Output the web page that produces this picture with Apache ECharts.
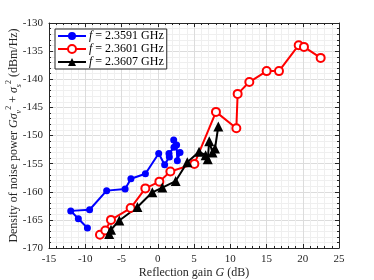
<!DOCTYPE html>
<html><head><meta charset="utf-8">
<script src="https://cdn.jsdelivr.net/npm/echarts@6/dist/echarts.min.js"></script>
<style>html,body{margin:0;padding:0;background:#fff}#c{width:374px;height:280px}</style>
</head><body><div id="c"></div>
<script>
var xTicks = [-15,-10,-5,0,5,10,15,20,25];
var yTicks = [-170,-165,-160,-155,-150,-145,-140,-135,-130];
var names = ['f = 2.3591 GHz','f = 2.3601 GHz','f = 2.3607 GHz'];
var blueX = [-9.7,-10.95,-12.0,-9.4,-7.05,-4.5,-3.7,-1.7,0.13,0.95,1.6,1.55,2.24,2.2,2.6,2.7,3.07];
var blueY = [-166.45,-164.8,-163.4,-163.2,-159.8,-159.5,-157.7,-156.8,-153.2,-155.2,-153.8,-153.2,-152.1,-150.8,-151.7,-154.5,-153.0];
var redX = [-7.97,-7.23,-6.45,-3.74,-1.71,0.22,1.74,5.05,8.03,10.84,11.02,12.63,15.02,16.72,19.44,20.17,22.47];
var redY = [-167.64,-166.9,-165.0,-162.9,-159.4,-158.2,-156.4,-155.05,-145.8,-148.7,-142.6,-140.5,-138.55,-138.55,-133.95,-134.25,-136.2];
var blackX = [-6.7,-6.45,-5.3,-2.8,-0.75,0.63,2.47,4.08,5.7,6.6,6.9,7.1,7.55,7.9,8.35];
var blackY = [-167.5,-166.75,-165.1,-162.7,-160.1,-159.25,-158.1,-154.75,-152.9,-153.5,-154.2,-151.0,-153.0,-152.3,-148.4];

function pairs(xs, ys){ return xs.map(function(x,i){return [x, ys[i]];}); }
var font = 'Liberation Serif';
var axisCol = '#262626';
function xAx(pos, show){
  return {type:'value', position:pos, min:xTicks[0], max:xTicks[xTicks.length-1], interval:5,
    axisLine:{show:true, onZero:false, lineStyle:{color:axisCol,width:1}},
    axisTick:{show:true, inside:true, length:4, lineStyle:{color:axisCol}},
    minorTick:{show:true, splitNumber:5, length:2, lineStyle:{color:axisCol}},
    splitLine:{show:show, lineStyle:{color:'#dcdcdc',width:1}},
    minorSplitLine:{show:show, lineStyle:{color:'#efefef',width:1}},
    axisLabel:{show:show, color:axisCol, fontFamily:font, fontSize:11, margin:6},
    name: show ? 'Reflection gain {i|G} (dB)' : '', nameLocation:'middle', nameGap:19, nameMoveOverlap:false,
    nameTextStyle:{color:axisCol, fontFamily:font, fontSize:12, rich:{i:{fontStyle:'italic', fontFamily:font, fontSize:12, color:axisCol}}}
  };
}
function yAx(pos, show){
  return {type:'value', position:pos, min:yTicks[0], max:yTicks[yTicks.length-1], interval:5,
    axisLine:{show:true, onZero:false, lineStyle:{color:axisCol,width:1}},
    axisTick:{show:true, inside:true, length:4, lineStyle:{color:axisCol}},
    minorTick:{show:true, splitNumber:5, length:2, lineStyle:{color:axisCol}},
    splitLine:{show:show, lineStyle:{color:'#dcdcdc',width:1}},
    minorSplitLine:{show:show, lineStyle:{color:'#efefef',width:1}},
    axisLabel:{show:show, color:axisCol, fontFamily:font, fontSize:11, margin:6},
    name: show ? '{n|Density of noise power }{i|Gσ}{sub|v}{sup|2}{n| + }{i|σ}{sub|s}{sup|2}{n| (dBm/Hz)}' : '',
    nameLocation:'middle', nameGap:26, nameMoveOverlap:false,
    nameTextStyle:{color:axisCol, fontFamily:font, fontSize:12,
      rich:{n:{fontFamily:font, fontSize:12, color:axisCol, lineHeight:18, verticalAlign:'middle'},
            i:{fontStyle:'italic', fontFamily:font, fontSize:12, color:axisCol, lineHeight:18, verticalAlign:'middle'},
            sub:{fontStyle:'italic', fontFamily:font, fontSize:8, color:axisCol, verticalAlign:'bottom', lineHeight:18},
            sup:{fontFamily:font, fontSize:8, color:axisCol, verticalAlign:'top', lineHeight:18}}}
  };
}
var chart = echarts.init(document.getElementById('c'), null, {renderer:'canvas'});
chart.setOption({
  animation:false,
  backgroundColor:'#fff',
  grid:{left:49, right:35, top:23, bottom:32, containLabel:false, outerBoundsMode:'none'},
  xAxis:[xAx('bottom', true), xAx('top', false)],
  yAxis:[yAx('left', true), yAx('right', false)],
  legend:{left:55, top:29, orient:'vertical', itemGap:1, itemWidth:28, itemHeight:10,
    backgroundColor:'#fff', borderColor:'#262626', borderWidth:1, borderRadius:0, padding:[1,3,1,2],
    textStyle:{fontFamily:font, fontSize:12, color:'#000', padding:[0,0,0,-2], rich:{i:{fontStyle:'italic', fontFamily:font, fontSize:12}}},
    formatter:function(n){ return '{i|f} ' + n.slice(2); },
    data:names},
  series:[
    {name:names[0], type:'line', data:pairs(blueX,blueY), color:'#0000ff',
      lineStyle:{width:2, color:'#0000ff'}, symbol:'circle', symbolSize:7,
      itemStyle:{color:'#0000ff', borderWidth:0}},
    {name:names[1], type:'line', data:pairs(redX,redY), color:'#ff0000',
      lineStyle:{width:2, color:'#ff0000'}, symbol:'emptyCircle', symbolSize:8,
      itemStyle:{color:'#ff0000', borderColor:'#ff0000', borderWidth:2}},
    {name:names[2], type:'line', data:pairs(blackX,blackY), color:'#000',
      lineStyle:{width:2, color:'#000'}, symbol:'triangle', symbolSize:10,
      itemStyle:{color:'#000', borderWidth:0}}
  ]
});
</script></body></html>
